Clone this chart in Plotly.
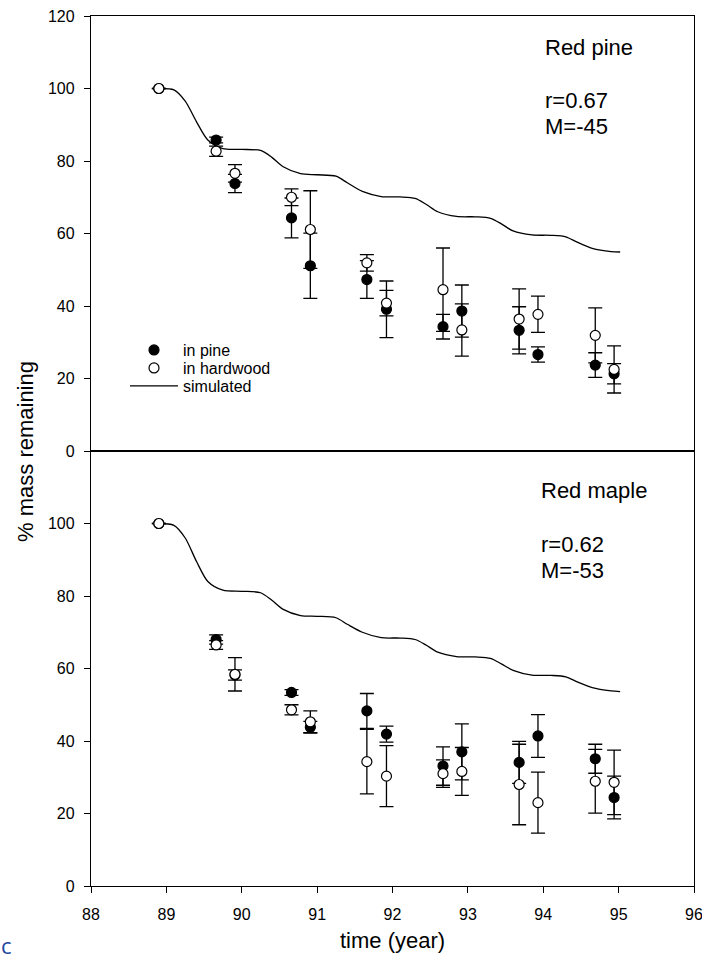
import plotly.graph_objects as go

# ---------------- data ----------------
years = [88.9, 89.66, 89.91, 90.66, 90.91, 91.66, 91.92, 92.67, 92.92, 93.68, 93.93, 94.69, 94.94]

# Red pine litter
pine_in_pine = [100, 85.8, 73.8, 64.3, 51.1, 47.3, 39.1, 34.3, 38.6, 33.3, 26.6, 23.7, 21.3]
pine_in_pine_err = [0, 0.8, 2.5, 5.5, 9.0, 5.2, 7.8, 3.4, 7.2, 6.5, 2.1, 3.4, 2.8]
pine_in_hard = [100, 82.7, 76.6, 70.0, 61.1, 51.9, 40.8, 44.5, 33.4, 36.4, 37.7, 31.9, 22.5]
pine_in_hard_err = [0, 1.4, 2.4, 2.3, 10.7, 2.3, 3.5, 11.5, 7.2, 8.3, 5.0, 7.6, 6.5]

# Red maple litter
maple_in_pine = [100, 68.0, 58.2, 53.4, 43.8, 48.3, 41.9, 33.1, 37.0, 34.1, 41.4, 35.1, 24.4]
maple_in_pine_err = [0, 1.3, 1.4, 0.8, 1.6, 4.8, 2.2, 5.3, 7.7, 5.8, 5.9, 4.0, 5.9]
maple_in_hard = [100, 66.5, 58.4, 48.6, 45.3, 34.3, 30.3, 31.0, 31.6, 28.0, 23.0, 28.9, 28.6]
maple_in_hard_err = [0, 1.2, 4.6, 1.4, 3.0, 8.9, 8.4, 3.8, 6.6, 11.1, 8.4, 8.8, 8.9]

# simulated curves
sim_x = [88.90, 89.10, 89.25, 89.40, 89.55, 89.75, 90.00, 90.25, 90.40, 90.55, 90.78,
         91.00, 91.25, 91.40, 91.60, 91.85, 92.10, 92.30, 92.45, 92.60, 92.85, 93.10,
         93.30, 93.45, 93.60, 93.85, 94.10, 94.30, 94.45, 94.65, 94.90, 95.02]
sim_pine = [100.0, 99.6, 96.5, 90.8, 85.8, 83.4, 83.2, 82.9, 81.0, 78.4, 76.5,
            76.2, 75.8, 74.0, 71.6, 70.2, 70.1, 69.7, 68.0, 66.0, 64.7, 64.6,
            64.2, 62.6, 60.7, 59.6, 59.5, 59.1, 57.6, 55.9, 55.0, 54.9]
sim_maple = [100.0, 99.5, 96.0, 89.5, 84.0, 81.6, 81.3, 80.9, 78.8, 76.3, 74.6,
             74.4, 74.0, 72.2, 70.0, 68.5, 68.4, 68.0, 66.4, 64.5, 63.3, 63.2,
             62.8, 61.2, 59.5, 58.2, 58.1, 57.7, 56.3, 54.7, 53.8, 53.6]

x_ticks = [88, 89, 90, 91, 92, 93, 94, 95, 96]
y_ticks_top = [0, 20, 40, 60, 80, 100, 120]
y_ticks_bottom = [0, 20, 40, 60, 80, 100]

# ---------------- figure ----------------
FONT = "Liberation Sans, Arial, sans-serif"
fig = go.Figure()

def line_trace(x, y, xa, ya, show):
    return go.Scatter(x=x, y=y, mode="lines", name="simulated", xaxis=xa, yaxis=ya,
                      line=dict(color="black", width=1.3, shape="spline", smoothing=0.8),
                      showlegend=show, legend="legend3")

def pts(x, y, e, filled, name, xa, ya, show, leg):
    return go.Scatter(
        x=x, y=y, mode="markers", name=name, xaxis=xa, yaxis=ya,
        marker=dict(symbol="circle", size=10,
                    color="black" if filled else "white",
                    line=dict(color="black", width=1.2)),
        error_y=dict(type="data", array=e, visible=True, color="black",
                     thickness=1.3, width=7),
        showlegend=show, legend=leg)

# top panel (red pine)
fig.add_trace(line_trace(sim_x, sim_pine, "x", "y", True))
fig.add_trace(pts(years, pine_in_pine, pine_in_pine_err, True, "in pine", "x", "y", True, "legend"))
fig.add_trace(pts(years, pine_in_hard, pine_in_hard_err, False, "in hardwood", "x", "y", True, "legend2"))
# bottom panel (red maple)
fig.add_trace(line_trace(sim_x, sim_maple, "x2", "y2", False))
fig.add_trace(pts(years, maple_in_pine, maple_in_pine_err, True, "in pine", "x2", "y2", False, "legend"))
fig.add_trace(pts(years, maple_in_hard, maple_in_hard_err, False, "in hardwood", "x2", "y2", False, "legend2"))

axis_common = dict(showline=True, linecolor="black", linewidth=1.3, mirror=True,
                   showgrid=False, zeroline=False, automargin=False,
                   tickfont=dict(family=FONT, size=16, color="black"))

leg_common = dict(x=0.0564, xanchor="left", yanchor="top", bgcolor="rgba(0,0,0,0)",
                  borderwidth=0, itemwidth=48,
                  font=dict(family=FONT, size=16, color="black"))

fig.update_layout(
    width=702, height=962,
    margin=dict(l=91, r=8, t=16, b=76, autoexpand=False),
    paper_bgcolor="white", plot_bgcolor="white",
    font=dict(family=FONT, color="black"),
    xaxis=dict(domain=[0, 1], range=[88, 96], anchor="y", showticklabels=False,
               ticks="", **axis_common),
    yaxis=dict(domain=[0.5, 1], range=[0, 120], anchor="x", tickvals=y_ticks_top,
               ticks="outside", ticklen=6, tickcolor="black", tickwidth=1.3,
               ticklabelstandoff=6, **axis_common),
    xaxis2=dict(domain=[0, 1], range=[88, 96], anchor="y2", tickvals=x_ticks,
                ticks="outside", ticklen=6, tickcolor="black", tickwidth=1.3,
                ticklabelstandoff=8, ticklabeloverflow="allow", **axis_common),
    yaxis2=dict(domain=[0, 0.5], range=[0, 120], anchor="x2", tickvals=y_ticks_bottom,
                ticks="outside", ticklen=6, tickcolor="black", tickwidth=1.3,
                ticklabelstandoff=6, **axis_common),
    legend=dict(y=0.6356, **leg_common),
    legend2=dict(y=0.6149, **leg_common),
    legend3=dict(y=0.5943, **leg_common),
)

txt = dict(family=FONT, size=22, color="black")
ann = [
    dict(text="Red pine", x=94.0, y=111.4, xref="x", yref="y"),
    dict(text="r=0.67", x=94.0, y=96.8, xref="x", yref="y"),
    dict(text="M=-45", x=94.0, y=89.6, xref="x", yref="y"),
    dict(text="Red maple", x=93.95, y=109.0, xref="x2", yref="y2"),
    dict(text="r=0.62", x=93.95, y=94.2, xref="x2", yref="y2"),
    dict(text="M=-53", x=93.95, y=87.0, xref="x2", yref="y2"),
]
for a in ann:
    fig.add_annotation(showarrow=False, xanchor="left", yanchor="middle", font=txt, **a)

fig.add_annotation(text="% mass remaining", textangle=-90, x=-0.1095, y=0.5,
                   xref="paper", yref="paper", showarrow=False,
                   xanchor="center", yanchor="middle", font=txt)
fig.add_annotation(text="time (year)", x=0.5, y=-0.0632, xref="paper", yref="paper",
                   showarrow=False, xanchor="center", yanchor="middle", font=txt)
fig.add_annotation(text="c", x=-92 / 603, y=-0.0874, xref="paper", yref="paper",
                   showarrow=False, xanchor="left", yanchor="bottom",
                   font=dict(family="Open Sans, sans-serif", size=22, color="#2046a0"))

fig.write_html("out.html",
               config={"displayModeBar": False},
               post_script="document.body.style.margin='0';"
                           "document.body.style.overflow='hidden';")
